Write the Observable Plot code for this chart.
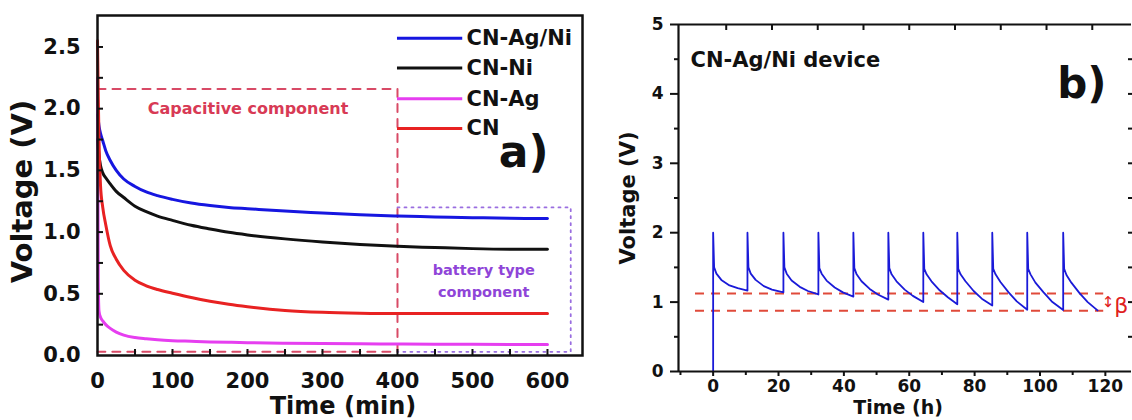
<!DOCTYPE html>
<html><head><meta charset="utf-8">
<script src="https://cdn.jsdelivr.net/npm/d3@7"></script>
<script src="https://cdn.jsdelivr.net/npm/@observablehq/plot@0.6"></script>
<style>
html,body{margin:0;padding:0;background:#fff;}
#wrap{display:flex;width:1132px;height:420px;overflow:hidden;background:#fff;}
#wrap svg{display:block;overflow:visible}
</style></head><body><div id="wrap"></div>
<script>
// ---------- Panel a data ----------
const timeMin = [0, 1, 2, 4, 7, 11, 17, 25, 35, 50, 65, 80, 100, 125, 150, 175, 200, 250, 300, 350, 400, 450, 500, 550, 600];
const cnAgNi  = [1.95, 1.91, 1.86, 1.80, 1.74, 1.66, 1.58, 1.50, 1.43, 1.37, 1.325, 1.295, 1.265, 1.235, 1.215, 1.20, 1.19, 1.17, 1.155, 1.14, 1.13, 1.123, 1.117, 1.112, 1.11];
const cnNi    = [1.75, 1.68, 1.62, 1.54, 1.48, 1.44, 1.39, 1.33, 1.28, 1.21, 1.165, 1.13, 1.095, 1.055, 1.025, 0.998, 0.977, 0.945, 0.92, 0.90, 0.885, 0.875, 0.866, 0.861, 0.86];
const cnAg    = [2.25, 0.60, 0.36, 0.31, 0.28, 0.25, 0.22, 0.19, 0.165, 0.145, 0.135, 0.127, 0.12, 0.115, 0.11, 0.107, 0.104, 0.10, 0.097, 0.095, 0.093, 0.092, 0.091, 0.09, 0.09];
const cn      = [2.55, 2.10, 1.75, 1.38, 1.20, 1.06, 0.89, 0.78, 0.69, 0.61, 0.565, 0.535, 0.505, 0.47, 0.44, 0.415, 0.395, 0.365, 0.35, 0.343, 0.34, 0.34, 0.34, 0.34, 0.34];
const seriesNames  = ["CN-Ag/Ni", "CN-Ni", "CN-Ag", "CN"];
const seriesColors = ["#1616e0", "#111111", "#e63ef0", "#e82222"];
const seriesValues = [cnAgNi, cnNi, cnAg, cn];
const yTicksA = [0, 0.5, 1.0, 1.5, 2.0, 2.5];
const yMinorA = [0.25, 0.5, 0.75, 1.0, 1.25, 1.5, 1.75, 2.0, 2.25, 2.5];
const xTicksA = [0, 100, 200, 300, 400, 500, 600];
const xMinorA = [50, 100, 150, 200, 250, 300, 350, 400, 450, 500, 550, 600];
// region annotations (time min, voltage V)
const capBox = [[0, 2.16], [400, 2.16], [400, 0.03], [0, 0.03]];
const batBox = [[400, 1.2], [631, 1.2], [631, 0.03], [400, 0.03]];

// ---------- Panel b data ----------
const bCurve = [
  [0, 0], [0, 2.0], [0.3, 1.50], [1, 1.41], [2.5, 1.32], [5, 1.24], [7.5, 1.20], [10.5, 1.165],
  [10.5, 2.0], [10.8, 1.50], [11.5, 1.41], [13, 1.32], [15.5, 1.23], [18, 1.18], [21.5, 1.14],
  [21.5, 2.0], [21.8, 1.50], [22.5, 1.41], [24, 1.31], [26.5, 1.22], [29, 1.16], [32.2, 1.11],
  [32.2, 2.0], [32.5, 1.49], [33.2, 1.41], [34.7, 1.31], [37.2, 1.21], [39.7, 1.14], [42.9, 1.08],
  [42.9, 2.0], [43.2, 1.49], [43.9, 1.40], [45.4, 1.30], [47.9, 1.19], [50.4, 1.11], [53.6, 1.035],
  [53.6, 2.0], [53.9, 1.49], [54.6, 1.40], [56.1, 1.30], [58.6, 1.18], [61.1, 1.09], [64.3, 1.00],
  [64.3, 2.0], [64.6, 1.48], [65.3, 1.40], [66.8, 1.30], [69.3, 1.17], [71.8, 1.07], [74.7, 0.97],
  [74.7, 2.0], [75.0, 1.48], [75.7, 1.40], [77.2, 1.30], [79.7, 1.16], [82.2, 1.05], [85.4, 0.95],
  [85.4, 2.0], [85.7, 1.48], [86.4, 1.40], [87.9, 1.29], [90.4, 1.14], [92.9, 1.01], [96.1, 0.89],
  [96.1, 2.0], [96.4, 1.48], [97.1, 1.40], [98.6, 1.28], [101.1, 1.14], [103.6, 1.01], [107.1, 0.886],
  [107.1, 2.0], [107.4, 1.48], [108.1, 1.39], [109.6, 1.28], [112.1, 1.13], [114.6, 1.00], [117.6, 0.88]
];
const refLevels = [1.125, 0.875];
const refSpan = [-5.4, 119.5];
const yTicksB = [0, 1, 2, 3, 4, 5];
const yMinorB = [0.5, 1.5, 2.5, 3.5, 4.5];
const yRightB = [0.5, 1, 1.5, 2, 2.5, 3, 3.5, 4, 4.5];
const xTicksB = [0, 20, 40, 60, 80, 100, 120];
const xMinorB = [-10, 10, 30, 50, 70, 90, 110];
const xTopB = [4, 18, 32, 46, 60, 74, 88, 102, 116];
const xDomB = [-10.6, 128];

// ---------- build ----------
const FONT = "DejaVu Sans";
const rowsA = seriesNames.flatMap((name, k) => timeMin.map((t, i) => ({t, v: seriesValues[k][i], name})));
const drawOrder = ["CN-Ni", "CN-Ag/Ni", "CN-Ag", "CN"];
const legendRows = seriesNames.map((name, i) => ({name, v: [2.57, 2.33, 2.08, 1.84][i]}));
const toPts = a => a.map(([t, v]) => ({t, v}));
const noLabel = () => "";

const plotA = Plot.plot({
  width: 592, height: 420,
  marginLeft: 97, marginRight: 10, marginTop: 15, marginBottom: 65,
  x: {domain: [0, 646.7]},
  y: {domain: [0, 2.755]},
  color: {domain: seriesNames, range: seriesColors},
  style: {fontFamily: FONT, background: "white", color: "#111"},
  marks: [
    Plot.line(toPts(capBox), {x: "t", y: "v", stroke: "#d84a66", strokeWidth: 2, strokeDasharray: "8,7"}),
    Plot.line(toPts(batBox), {x: "t", y: "v", stroke: "#9a6ee0", strokeWidth: 1.8, strokeDasharray: "2,5"}),
    ...drawOrder.map(n => Plot.line(rowsA.filter(d => d.name === n), {x: "t", y: "v", stroke: "name", strokeWidth: 3, curve: "monotone-x"})),
    Plot.ruleY(legendRows, {y: "v", x1: 400, x2: 487, stroke: "name", strokeWidth: 3}),
    Plot.text(legendRows, {y: "v", x: 492, text: "name", textAnchor: "start", fontSize: 21, fontWeight: "bold", fill: "#111"}),
    Plot.text(["a)"], {x: 535, y: 1.64, text: d => d, textAnchor: "start", fontSize: 44, fontWeight: "bold", fill: "#111"}),
    Plot.text(["Capacitive component"], {x: 67, y: 2.0, text: d => d, textAnchor: "start", fontSize: 16, fontWeight: "bold", fill: "#d83a55"}),
    Plot.text(["battery type"], {x: 515, y: 0.686, text: d => d, fontSize: 14.5, fontWeight: "bold", fill: "#8f45d8"}),
    Plot.text(["component"], {x: 515, y: 0.51, text: d => d, fontSize: 14.5, fontWeight: "bold", fill: "#8f45d8"}),
    Plot.axisY({ticks: yTicksA, tickSize: 0, tickPadding: 17, tickFormat: d3.format(".1f"), fontSize: 21, fontWeight: "bold", label: null}),
    Plot.axisY({ticks: yMinorA, tickSize: 6, dx: 6, strokeWidth: 2, tickFormat: noLabel, label: null}),
    Plot.axisX({ticks: xTicksA, tickSize: 0, tickPadding: 18, fontSize: 21, fontWeight: "bold", label: null}),
    Plot.axisX({ticks: xMinorA, tickSize: 6, dy: -6, strokeWidth: 2, tickFormat: noLabel, label: null}),
    Plot.frame({stroke: "#111", strokeWidth: 2.5}),
    Plot.text(["Voltage (V)"], {text: d => d, frameAnchor: "left", dx: -75, dy: 6, rotate: -90, textAnchor: "middle", lineAnchor: "middle", fontSize: 29, fontWeight: "bold", fill: "#111"}),
    Plot.text(["Time (min)"], {text: d => d, frameAnchor: "bottom", dx: 3, dy: 51, textAnchor: "middle", lineAnchor: "middle", fontSize: 24, fontWeight: "bold", fill: "#111"})
  ]
});

const plotB = Plot.plot({
  width: 540, height: 420,
  marginLeft: 86, marginRight: 1, marginTop: 24, marginBottom: 49,
  x: {domain: xDomB},
  y: {domain: [0, 5]},
  style: {fontFamily: FONT, background: "white", color: "#111"},
  marks: [
    Plot.ruleY(refLevels, {y: d => d, x1: refSpan[0], x2: refSpan[1], stroke: "#e04a3a", strokeWidth: 2, strokeDasharray: "9,7"}),
    Plot.line(toPts(bCurve), {x: "t", y: "v", stroke: "#1a1ad8", strokeWidth: 1.8}),
    Plot.ruleX([xDomB[0]], {stroke: "#111", strokeWidth: 2.2}),
    Plot.ruleY([0, 5], {stroke: "#111", strokeWidth: 2.2}),
    Plot.axisY({ticks: yTicksB, tickSize: 8, tickPadding: 7, strokeWidth: 2, tickFormat: d3.format("d"), fontSize: 17, fontWeight: "bold", label: null}),
    Plot.axisY({ticks: yMinorB, tickSize: 4, strokeWidth: 2, tickFormat: noLabel, label: null}),
    Plot.axisY({anchor: "right", ticks: yRightB, tickSize: 4, dx: -4, strokeWidth: 2, tickFormat: noLabel, label: null}),
    Plot.axisX({ticks: xTicksB, tickSize: 5, tickPadding: 3, strokeWidth: 2, tickFormat: d3.format("d"), fontSize: 17, fontWeight: "bold", label: null}),
    Plot.axisX({ticks: xMinorB, tickSize: 4, strokeWidth: 2, tickFormat: noLabel, label: null}),
    Plot.axisX({anchor: "top", ticks: xTopB, tickSize: 5, dy: 5, strokeWidth: 2, tickFormat: noLabel, label: null}),
    Plot.text(["CN-Ag/Ni device"], {x: -6.9, y: 4.48, text: d => d, textAnchor: "start", fontSize: 21, fontWeight: "bold", fill: "#111"}),
    Plot.text(["b)"], {x: 105.3, y: 4.14, text: d => d, textAnchor: "start", fontSize: 42, fontWeight: "bold", fill: "#111"}),
    Plot.text(["↕"], {x: 120.8, y: 1.0, text: d => d, fontSize: 15, fill: "#e02020"}),
    Plot.text(["β"], {x: 124.9, y: 0.95, text: d => d, fontSize: 22, fill: "#e02020"}),
    Plot.text(["Voltage (V)"], {text: d => d, frameAnchor: "left", dx: -50, rotate: -90, textAnchor: "middle", lineAnchor: "middle", fontSize: 21, fontWeight: "bold", fill: "#111"}),
    Plot.text(["Time (h)"], {text: d => d, frameAnchor: "bottom", dx: -7, dy: 36.5, textAnchor: "middle", lineAnchor: "middle", fontSize: 19, fontWeight: "bold", fill: "#111"})
  ]
});

const wrap = document.getElementById("wrap");
wrap.appendChild(plotA);
wrap.appendChild(plotB);
</script>
</body></html>
